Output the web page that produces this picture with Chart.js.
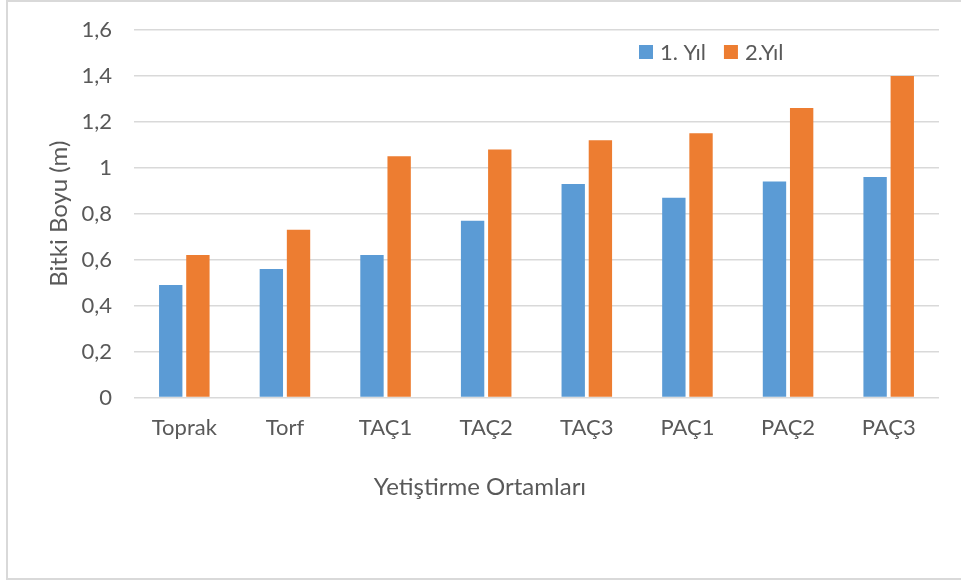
<!DOCTYPE html>
<html>
<head>
<meta charset="utf-8">
<script src="https://cdn.jsdelivr.net/npm/chart.js@4.4.1/dist/chart.umd.min.js"></script>
<style>
  html, body { margin: 0; padding: 0; background: #ffffff; }
  #wrap { position: relative; width: 961px; height: 581px; overflow: hidden; }
  #frame { position: absolute; left: 6px; top: 0px; width: 960px; height: 576px; border: 2px solid #d9d9d9; box-sizing: content-box; }
  canvas { position: absolute; left: 0; top: 0; }
</style>
</head>
<body>
<div id="wrap">
  <div id="frame"></div>
  <canvas id="c" width="961" height="581"></canvas>
</div>
<script>
// Growing media and plant height (m) over two years
const categories = ['Toprak', 'Torf', 'TAÇ1', 'TAÇ2', 'TAÇ3', 'PAÇ1', 'PAÇ2', 'PAÇ3'];
const year1 = [0.49, 0.56, 0.62, 0.77, 0.93, 0.87, 0.94, 0.96];
const year2 = [0.62, 0.73, 1.05, 1.08, 1.12, 1.15, 1.26, 1.40];
const seriesNames = ['1. Yıl', '2.Yıl'];
const yTicks = [0, 0.2, 0.4, 0.6, 0.8, 1, 1.2, 1.4, 1.6];
const xTitle = 'Yetiştirme Ortamları';

const TEXT = '#595959';
const FONT = 'Lato, "Open Sans", sans-serif';

// Legend inside the plot area near the top, and the category-axis title
// centred on the whole chart rather than on the plot area
const chartDecor = {
  id: 'chartDecor',
  afterDraw(chart) {
    const ctx = chart.ctx;
    ctx.save();
    ctx.font = '22px ' + FONT;
    ctx.textBaseline = 'middle';
    ctx.textAlign = 'left';
    let x = 639;
    const yMid = 52;
    chart.data.datasets.forEach(ds => {
      ctx.fillStyle = ds.backgroundColor;
      ctx.fillRect(x, yMid - 7, 14, 14);
      ctx.fillStyle = TEXT;
      ctx.fillText(ds.label, x + 21, yMid + 1);
      x += 21 + ctx.measureText(ds.label).width + 18;
    });

    ctx.font = '24px ' + FONT;
    ctx.textAlign = 'center';
    ctx.fillStyle = TEXT;
    ctx.fillText(xTitle, 480, 487);
    ctx.restore();
  }
};

new Chart(document.getElementById('c'), {
  type: 'bar',
  data: {
    labels: categories,
    datasets: [
      { label: seriesNames[0], data: year1, backgroundColor: '#5B9BD5' },
      { label: seriesNames[1], data: year2, backgroundColor: '#ED7D31' }
    ]
  },
  options: {
    responsive: false,
    animation: false,
    devicePixelRatio: 1,
    layout: { padding: { top: 30, right: 22, bottom: 0, left: 0 } },
    datasets: { bar: { categoryPercentage: 0.54, barPercentage: 0.86 } },
    plugins: {
      legend: { display: false },
      tooltip: { enabled: false }
    },
    scales: {
      x: {
        grid: { display: false, drawTicks: false },
        border: { display: false },
        ticks: { color: TEXT, font: { family: FONT, size: 22 }, padding: 17, maxRotation: 0 },
        afterFit(scale) { scale.height = 183.5; scale.paddingLeft = 0; scale.paddingRight = 0; }
      },
      y: {
        min: 0, max: 1.6,
        afterBuildTicks(scale) { scale.ticks = yTicks.map(v => ({ value: v })); },
        grid: { color: '#d9d9d9', lineWidth: 1.5, drawTicks: false },
        border: { display: false },
        ticks: {
          color: TEXT, font: { family: FONT, size: 22 }, padding: 22,
          callback: v => String(Number(v.toFixed(1))).replace('.', ',')
        },
        title: {
          display: true, text: 'Bitki Boyu (m)', color: TEXT,
          font: { family: FONT, size: 24 }, padding: { top: 45, bottom: 0 }
        },
        afterFit(scale) { scale.width = 134; scale.paddingTop = 0; scale.paddingBottom = 0; }
      }
    }
  },
  plugins: [chartDecor]
});
</script>
</body>
</html>
